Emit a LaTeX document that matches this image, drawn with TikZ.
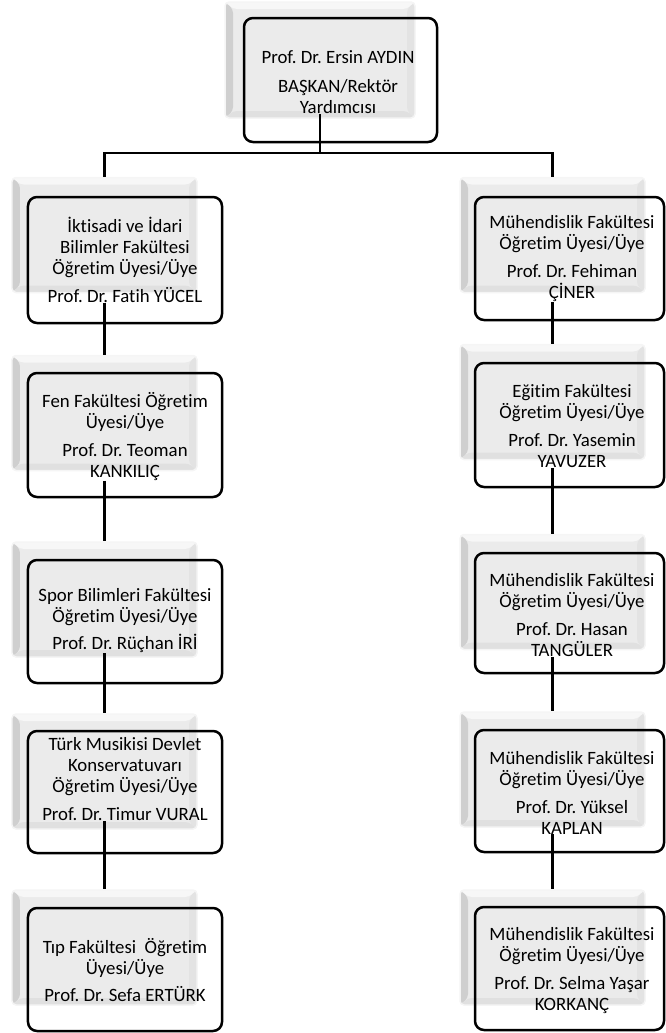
\documentclass[tikz,border=0pt]{standalone}
\usepackage{fontspec}
\setmainfont{Carlito}[Ligatures={NoCommon}]
\frenchspacing
\usetikzlibrary{calc}
\tikzset{
  shadowbox/.style={inner sep=0pt, rounded corners=4bp, fill=black!8, draw=black!4, line width=1.5bp,
    path picture={
      \fill[black!3] (path picture bounding box.north west) -- (path picture bounding box.north east)
         -- ++(-8bp,-7bp) -- ($(path picture bounding box.north west)+(8bp,-7bp)$) -- cycle;
      \fill[black!19] (path picture bounding box.north west) -- ++(8bp,-7bp)
         -- ($(path picture bounding box.south west)+(8bp,7bp)$) -- (path picture bounding box.south west) -- cycle;
      \fill[black!12] (path picture bounding box.south west) -- ++(8bp,7bp)
         -- ($(path picture bounding box.south east)+(-8bp,7bp)$) -- (path picture bounding box.south east) -- cycle;
      \fill[black!11] (path picture bounding box.north east) -- ++(-8bp,-7bp)
         -- ($(path picture bounding box.south east)+(-8bp,7bp)$) -- (path picture bounding box.south east) -- cycle;
    }},
  frame/.style={inner sep=0pt, rounded corners=9bp, draw=black, line width=2.5bp},
  label/.style={inner sep=0pt, align=center, text=black, font=\fontsize{18.8bp}{21bp}\selectfont},
  link/.style={draw=black, line width=2.6bp},
  lbox/.style={shadowbox, minimum width=185bp, minimum height=115bp},
  lframe/.style={frame, minimum width=194bp},
  rbox/.style={shadowbox, minimum width=185bp, minimum height=115bp},
  rframe/.style={frame, minimum width=189bp},
}
\begin{document}
\begin{tikzpicture}[x=1bp,y=-1bp]
\useasboundingbox (0,0) rectangle (666,1033);

% top
\node[shadowbox, minimum width=190bp, minimum height=116bp] (gT) at (320,60) {};
\node[frame, minimum width=193bp, minimum height=124bp] (bT) at (340.5,80) {};
\node[label] (tT) at (338,82.5) {Prof. Dr. Ersin AYDIN\\[8bp]BAŞKAN/Rektör\\Yardımcısı};

% left column
\node[lbox] (gL1) at (104.5,235) {};
\node[lframe, minimum height=126bp] (bL1) at (125,260) {};
\node[label] (tL1) at (125,260) {İktisadi ve İdari\\Bilimler Fakültesi\\Öğretim Üyesi/Üye\\[7bp]Prof. Dr. Fatih YÜCEL};

\node[lbox] (gL2) at (104.5,413) {};
\node[lframe, minimum height=124bp] (bL2) at (125,435) {};
\node[label] (tL2) at (125,436.5) {Fen Fakültesi Öğretim\\Üyesi/Üye\\[7bp]Prof. Dr. Teoman\\KANKILIÇ};

\node[lbox] (gL3) at (104.5,599.5) {};
\node[lframe, minimum height=123bp] (bL3) at (125,621.5) {};
\node[label] (tL3) at (125,621) {Spor Bilimleri Fakültesi\\Öğretim Üyesi/Üye\\[6bp]Prof. Dr. Rüçhan İRİ};

\node[lbox] (gL4) at (104.5,771.5) {};
\node[lframe, minimum height=122bp] (bL4) at (125,792) {};
\node[label] (tL4) at (125,779.5) {Türk Musikisi Devlet\\Konservatuvarı\\Öğretim Üyesi/Üye\\[7bp]Prof. Dr. Timur VURAL};

\node[lbox] (gL5) at (104.5,947.5) {};
\node[lframe, minimum height=123bp] (bL5) at (125,969.5) {};
\node[label] (tL5) at (125,970) {Tıp Fakültesi\ \ Öğretim\\Üyesi/Üye\\[6bp]Prof. Dr. Sefa ERTÜRK};

% right column
\node[rbox] (gR1) at (552.5,235) {};
\node[rframe, minimum height=123bp] (bR1) at (569.5,258.5) {};
\node[label] (tR1) at (572,259) {Mühendislik Fakültesi\\Öğretim Üyesi/Üye\\[7bp]Prof. Dr. Fehiman\\ÇİNER};

\node[rbox] (gR2) at (552.5,402) {};
\node[rframe, minimum height=124bp] (bR2) at (569.5,425) {};
\node[label] (tR2) at (572,426) {Eğitim Fakültesi\\Öğretim Üyesi/Üye\\[7bp]Prof. Dr. Yasemin\\YAVUZER};

\node[rbox] (gR3) at (552.5,592) {};
\node[rframe, minimum height=120bp] (bR3) at (569.5,613) {};
\node[label] (tR3) at (572,615.5) {Mühendislik Fakültesi\\Öğretim Üyesi/Üye\\[7bp]Prof. Dr. Hasan\\TANGÜLER};

\node[rbox] (gR4) at (552.5,769.5) {};
\node[rframe, minimum height=122bp] (bR4) at (569.5,791) {};
\node[label] (tR4) at (572,792.5) {Mühendislik Fakültesi\\Öğretim Üyesi/Üye\\[7bp]Prof. Dr. Yüksel\\KAPLAN};

\node[rbox] (gR5) at (552.5,947.5) {};
\node[rframe, minimum height=123bp] (bR5) at (569.5,968.5) {};
\node[label] (tR5) at (572,970.5) {Mühendislik Fakültesi\\Öğretim Üyesi/Üye\\[7bp]Prof. Dr. Selma Yaşar\\KORKANÇ};

% connectors
\coordinate (bus) at (320,153);
\draw[link] (gT.center |- tT.south) -- (bus);
\draw[link] (gL1.north) |- (bus) -| (gR1.north);

\draw[link] (gL1.center |- tL1.south) -- (gL2.north);
\draw[link] (gL2.center |- tL2.south) -- (gL3.north);
\draw[link] (gL3.center |- tL3.south) -- (gL4.north);
\draw[link] (gL4.center |- tL4.south) -- (gL5.north);

\draw[link] (gR1.center |- tR1.south) -- (gR2.north);
\draw[link] (gR2.center |- tR2.south) -- (gR3.north);
\draw[link] (gR3.center |- tR3.south) -- (gR4.north);
\draw[link] (gR4.center |- tR4.south) -- (gR5.north);
\end{tikzpicture}
\end{document}
